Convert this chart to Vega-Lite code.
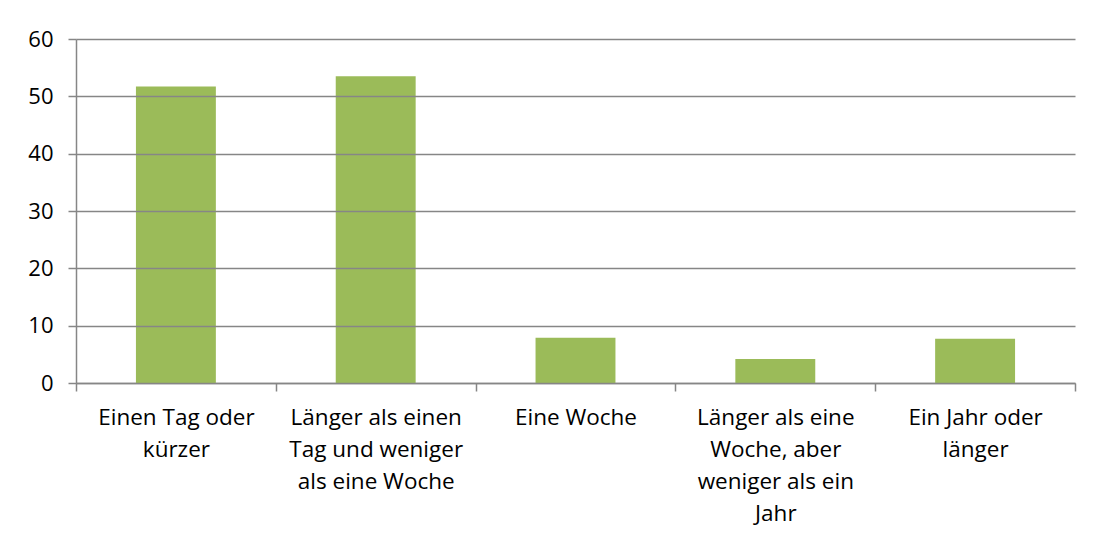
{
  "$schema": "https://vega.github.io/schema/vega-lite/v6.json",
  "width": 999,
  "height": 344,
  "autosize": {"type": "none"},
  "padding": {"left": 76, "top": 39, "right": 20, "bottom": 157},
  "background": "white",
  "config": {
    "view": {"stroke": null},
    "font": "Open Sans"
  },
  "data": {
    "values": [
      {"Dauer": "Einen Tag oder\nkürzer", "Wert": 51.7},
      {"Dauer": "Länger als einen\nTag und weniger\nals eine Woche", "Wert": 53.5},
      {"Dauer": "Eine Woche", "Wert": 7.9},
      {"Dauer": "Länger als eine\nWoche, aber\nweniger als ein\nJahr", "Wert": 4.2},
      {"Dauer": "Ein Jahr oder\nlänger", "Wert": 7.7}
    ]
  },
  "mark": {"type": "bar", "color": "#9BBB59", "width": {"band": 0.4}},
  "encoding": {
    "x": {
      "field": "Dauer",
      "type": "nominal",
      "sort": null,
      "scale": {"paddingInner": 0, "paddingOuter": 0},
      "axis": {
        "title": null,
        "labelAngle": 0,
        "labelExpr": "datum.value ? split(datum.value, '\\n') : ''",
        "labelFontSize": 22.5,
        "labelColor": "#000000",
        "labelLineHeight": 32,
        "labelPadding": 15,
        "labelBaseline": "top",
        "labelLimit": 0,
        "tickBand": "extent",
        "tickSize": 8,
        "tickColor": "#868686",
        "tickWidth": 1.5,
        "domainColor": "#868686",
        "domainWidth": 1.5
      }
    },
    "y": {
      "field": "Wert",
      "type": "quantitative",
      "scale": {"domain": [0, 60], "nice": false},
      "axis": {
        "title": null,
        "values": [0, 10, 20, 30, 40, 50, 60],
        "labelFontSize": 22,
        "labelColor": "#000000",
        "labelPadding": 15,
        "ticks": true,
        "tickSize": 8,
        "tickColor": "#868686",
        "tickWidth": 1.5,
        "domain": true,
        "domainColor": "#868686",
        "domainWidth": 1.5,
        "grid": true,
        "gridColor": "#868686",
        "gridWidth": 1.5,
        "zindex": 1
      }
    }
  }
}
